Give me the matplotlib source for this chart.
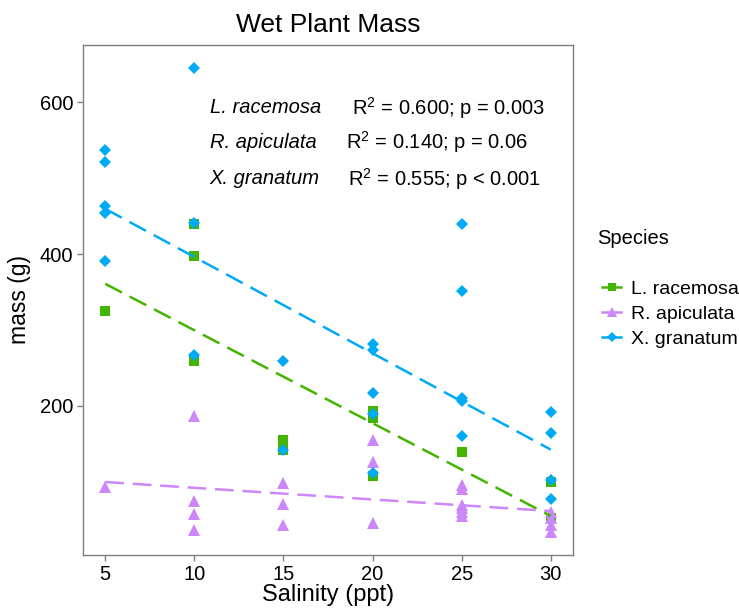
import numpy as np
import matplotlib
matplotlib.use("Agg")
import matplotlib.pyplot as plt
from matplotlib.lines import Line2D

plt.rcParams["font.family"] = ["Liberation Sans", "DejaVu Sans"]
plt.rcParams["mathtext.fontset"] = "custom"
plt.rcParams["mathtext.rm"] = "Liberation Sans"
plt.rcParams["mathtext.it"] = "Liberation Sans:italic"

# values
species = ["L. racemosa", "R. apiculata", "X. granatum"]

lrac_x = [5, 10, 10, 10, 15, 15, 20, 20, 20, 25, 30, 30]
lrac_y = [325, 440, 397, 259, 155, 142, 193, 184, 108, 139, 100, 52]

rapi_x = [5, 10, 10, 10, 10, 15, 15, 15, 20, 20, 20,
          25, 25, 25, 25, 25, 25, 30, 30, 30, 30]
rapi_y = [93, 186, 74, 57, 36, 98, 71, 43, 155, 126, 46,
          96, 90, 70, 65, 60, 55, 60, 52, 43, 34]

xgra_x = [5, 5, 5, 5, 5, 10, 10, 10, 15, 15, 20, 20, 20, 20, 20,
          25, 25, 25, 25, 25, 30, 30, 30, 30]
xgra_y = [537, 522, 463, 454, 391, 645, 441, 267, 259, 142, 281, 274, 217, 189, 111,
          440, 352, 210, 207, 160, 192, 164, 102, 77]

stats_text = [r"$\mathrm{R}^{2}$ = 0.600; p = 0.003",
              r"$\mathrm{R}^{2}$ = 0.140; p = 0.06",
              r"$\mathrm{R}^{2}$ = 0.555; p < 0.001"]

x_ticks = [5, 10, 15, 20, 25, 30]
y_ticks = [200, 400, 600]

colors = ["#43b500", "#cc87fa", "#00aaf5"]
markers = ["s", "^", "D"]
msizes = [7.0, 9.0, 6.5]

series = [(lrac_x, lrac_y), (rapi_x, rapi_y), (xgra_x, xgra_y)]

W, H = 739, 609
fig = plt.figure(figsize=(W / 100, H / 100), dpi=100)
ax = fig.add_axes([83 / W, 1 - 555 / H, (573 - 83) / W, (555 - 45) / H])

# points
for (xs, ys), c, m, ms in zip(series, colors, markers, msizes):
    ax.plot(xs, ys, linestyle="none", marker=m, markersize=ms, color=c,
            markeredgewidth=0, zorder=3)

# linear fits, dashed
for (xs, ys), c in zip(series, colors):
    slope, icpt = np.polyfit(xs, ys, 1)
    xx = np.array([min(xs), max(xs)])
    ax.plot(xx, slope * xx + icpt, color=c, linewidth=1.8,
            linestyle=(0, (7.5, 3.5)), zorder=4)

# ggplot-like 5% expansion
all_y = lrac_y + rapi_y + xgra_y
all_x = lrac_x + rapi_x + xgra_x
yr = max(all_y) - min(all_y)
xr = max(all_x) - min(all_x)
ax.set_ylim(min(all_y) - 0.05 * yr, max(all_y) + 0.05 * yr)
ax.set_xlim(min(all_x) - 0.05 * xr, max(all_x) + 0.05 * xr)

ax.set_xticks(x_ticks)
ax.set_yticks(y_ticks)
ax.tick_params(axis="both", direction="out", length=4, width=1, color="#7f7f7f",
               labelsize=14.5, labelcolor="black", pad=3)
for sp in ax.spines.values():
    sp.set_color("#7f7f7f")
    sp.set_linewidth(1.0)

ax.set_xlabel("Salinity (ppt)", fontsize=17, labelpad=0)
ax.set_ylabel("mass (g)", fontsize=16.5, labelpad=6)
ax.set_title("Wet Plant Mass", fontsize=19, pad=9)

# stats annotation
ann_y = [593, 547, 499]
stat_x = [18.85, 18.5, 18.65]
for name, txt, yy, sx in zip(species, stats_text, ann_y, stat_x):
    ax.text(10.85, yy, name, style="italic", fontsize=14.5, ha="left", va="center")
    ax.text(sx, yy, txt, fontsize=14.5, ha="left", va="center")

# legend
fig.text(597 / W, 1 - 238 / H, "Species", fontsize=14.5, ha="left", va="center")
handles = [Line2D([], [], color=c, marker=m, markersize=ms * 0.85, linewidth=1.8,
                  markeredgewidth=0)
           for c, m, ms in zip(colors, markers, msizes)]
fig.legend(handles, species, loc="upper left", bbox_to_anchor=(602 / W, 1 - 280 / H),
           frameon=False, fontsize=14, handlelength=1.0, handletextpad=0.5,
           labelspacing=0.38, borderaxespad=0, borderpad=0)

fig.savefig("out.png", dpi=100)
